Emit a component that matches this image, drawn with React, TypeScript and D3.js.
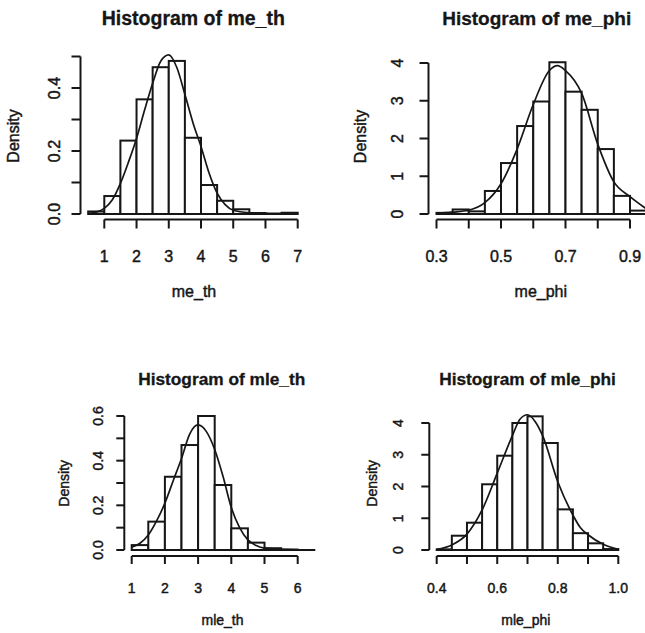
import React from "react";
import * as d3 from "d3";

// ---------- data: me_th ----------
const meThBreaks = [0.5, 1, 1.5, 2, 2.5, 3, 3.5, 4, 4.5, 5, 5.5, 6, 6.5, 7];
const meThDensity = [0.008, 0.057, 0.233, 0.364, 0.466, 0.486, 0.242, 0.092, 0.042, 0.015, 0.003, 0.001, 0.004];
const meThCurveX = [0.5, 0.75, 1.0, 1.25, 1.5, 1.75, 2.0, 2.25, 2.5, 2.75, 3.0, 3.25, 3.5, 3.75, 4.0, 4.25, 4.5, 4.75, 5.0, 5.5, 6.0, 6.5, 7.0];
const meThCurveY = [0.002, 0.006, 0.018, 0.045, 0.097, 0.165, 0.24, 0.33, 0.415, 0.485, 0.505, 0.465, 0.38, 0.29, 0.214, 0.13, 0.066, 0.03, 0.012, 0.004, 0.002, 0.001, 0.001];
const meThXTicks = [1, 2, 3, 4, 5, 6, 7];
const meThXLabels = ["1", "2", "3", "4", "5", "6", "7"];
const meThYTicks = [0, 0.1, 0.2, 0.3, 0.4, 0.5];
const meThYLabels = ["0.0", "", "0.2", "", "0.4", ""];

// ---------- data: me_phi ----------
const mePhiBreaks = [0.3, 0.35, 0.4, 0.45, 0.5, 0.55, 0.6, 0.65, 0.7, 0.75, 0.8, 0.85, 0.9, 0.95];
const mePhiDensity = [0.03, 0.12, 0.07, 0.61, 1.35, 2.33, 2.98, 4.02, 3.24, 2.76, 1.72, 0.48, 0.09];
const mePhiCurveX = [0.3, 0.35, 0.4, 0.45, 0.5, 0.55, 0.6, 0.65, 0.675, 0.7, 0.75, 0.8, 0.85, 0.9, 0.95];
const mePhiCurveY = [0.02, 0.05, 0.1, 0.3, 0.8, 1.72, 2.9, 3.8, 3.93, 3.8, 3.2, 1.85, 0.85, 0.46, 0.14];
const mePhiXTicks = [0.3, 0.4, 0.5, 0.6, 0.7, 0.8, 0.9];
const mePhiXLabels = ["0.3", "", "0.5", "", "0.7", "", "0.9"];
const mePhiYTicks = [0, 1, 2, 3, 4];
const mePhiYLabels = ["0", "1", "2", "3", "4"];

// ---------- data: mle_th ----------
const mleThBreaks = [1, 1.5, 2, 2.5, 3, 3.5, 4, 4.5, 5, 5.5, 6, 6.5];
const mleThDensity = [0.022, 0.127, 0.328, 0.47, 0.6, 0.291, 0.097, 0.033, 0.008, 0.002, 0.0];
const mleThCurveX = [1.0, 1.25, 1.5, 1.75, 2.0, 2.25, 2.5, 2.75, 3.0, 3.25, 3.5, 3.75, 4.0, 4.25, 4.5, 4.75, 5.0, 5.5, 6.0, 6.5];
const mleThCurveY = [0.012, 0.03, 0.067, 0.13, 0.21, 0.31, 0.41, 0.52, 0.56, 0.53, 0.45, 0.33, 0.19, 0.1, 0.045, 0.02, 0.008, 0.003, 0.001, 0.001];
const mleThXTicks = [1, 2, 3, 4, 5, 6];
const mleThXLabels = ["1", "2", "3", "4", "5", "6"];
const mleThYTicks = [0, 0.1, 0.2, 0.3, 0.4, 0.5, 0.6];
const mleThYLabels = ["0.0", "", "0.2", "", "0.4", "", "0.6"];

// ---------- data: mle_phi ----------
const mlePhiBreaks = [0.4, 0.45, 0.5, 0.55, 0.6, 0.65, 0.7, 0.75, 0.8, 0.85, 0.9, 0.95, 1.0];
const mlePhiDensity = [0.02, 0.45, 0.86, 2.07, 2.97, 4.0, 4.21, 3.37, 1.28, 0.53, 0.21, 0.03];
const mlePhiCurveX = [0.4, 0.45, 0.5, 0.55, 0.6, 0.65, 0.675, 0.7, 0.725, 0.75, 0.8, 0.85, 0.875, 0.9, 0.95, 1.0];
const mlePhiCurveY = [0.02, 0.16, 0.5, 1.26, 2.42, 3.6, 4.12, 4.26, 4.05, 3.6, 2.15, 1.1, 0.7, 0.48, 0.18, 0.02];
const mlePhiXTicks = [0.4, 0.5, 0.6, 0.7, 0.8, 0.9, 1.0];
const mlePhiXLabels = ["0.4", "", "0.6", "", "0.8", "", "1.0"];
const mlePhiYTicks = [0, 1, 2, 3, 4];
const mlePhiYLabels = ["0", "1", "2", "3", "4"];

const FONT = "'Liberation Sans', Arial, Helvetica, sans-serif";
const INK = "#161616";
const TXT = { stroke: INK, strokeWidth: 0.45 };

type PanelProps = {
  title: string;
  xlab: string;
  breaks: number[];
  density: number[];
  curveX: number[];
  curveY: number[];
  xTicks: number[];
  xLabels: string[];
  yTicks: number[];
  yLabels: string[];
  xDom: [number, number];
  xRange: [number, number];
  yDom: [number, number];
  yRange: [number, number];
  yAxisX: number;
  xAxisY: number;
  titlePos: [number, number];
  xlabPos: [number, number];
  ylabPos: [number, number];
  yTickLabelX: number;
  xTickLabelY: number;
  titleSize: number;
  labelSize: number;
  tick: number;
};

function Panel(p: PanelProps) {
  const x = d3.scaleLinear().domain(p.xDom).range(p.xRange);
  const y = d3.scaleLinear().domain(p.yDom).range(p.yRange);
  const pts: [number, number][] = p.curveX.map((v, i) => [v, p.curveY[i]]);
  const line = d3
    .line<[number, number]>()
    .x((d) => x(d[0]))
    .y((d) => y(d[1]))
    .curve(d3.curveMonotoneX);
  const xt0 = x(p.xTicks[0]);
  const xt1 = x(p.xTicks[p.xTicks.length - 1]);
  const yt0 = y(p.yTicks[0]);
  const yt1 = y(p.yTicks[p.yTicks.length - 1]);
  const sw = 2;
  return (
    <g fontFamily={FONT} fill={INK}>
      <text
        x={p.titlePos[0]}
        y={p.titlePos[1]}
        textAnchor="middle"
        fontWeight="bold"
        fontSize={p.titleSize}
        stroke={INK}
        strokeWidth={0.3}
      >
        {p.title}
      </text>
      {p.density.map((d, i) => {
        const x0 = x(p.breaks[i]);
        const x1 = x(p.breaks[i + 1]);
        const yy = y(d);
        const y0 = y(0);
        return (
          <rect
            key={i}
            x={x0}
            y={yy}
            width={x1 - x0}
            height={Math.max(0.01, y0 - yy)}
            fill="white"
            stroke={INK}
            strokeWidth={sw}
          />
        );
      })}
      <path d={line(pts) || ""} fill="none" stroke={INK} strokeWidth={1.7} />
      <line x1={xt0} x2={xt1} y1={p.xAxisY} y2={p.xAxisY} stroke={INK} strokeWidth={sw} />
      {p.xTicks.map((t, i) => (
        <g key={"xt" + i}>
          <line x1={x(t)} x2={x(t)} y1={p.xAxisY} y2={p.xAxisY + p.tick} stroke={INK} strokeWidth={sw} />
          {p.xLabels[i] ? (
            <text x={x(t)} y={p.xTickLabelY} textAnchor="middle" fontSize={p.labelSize} {...TXT}>
              {p.xLabels[i]}
            </text>
          ) : null}
        </g>
      ))}
      <line x1={p.yAxisX} x2={p.yAxisX} y1={yt0} y2={yt1} stroke={INK} strokeWidth={sw} />
      {p.yTicks.map((t, i) => (
        <g key={"yt" + i}>
          <line x1={p.yAxisX - p.tick} x2={p.yAxisX} y1={y(t)} y2={y(t)} stroke={INK} strokeWidth={sw} />
          {p.yLabels[i] ? (
            <text
              transform={`translate(${p.yTickLabelX},${y(t)}) rotate(-90)`}
              textAnchor="middle"
              fontSize={p.labelSize}
              {...TXT}
            >
              {p.yLabels[i]}
            </text>
          ) : null}
        </g>
      ))}
      <text x={p.xlabPos[0]} y={p.xlabPos[1]} textAnchor="middle" fontSize={p.labelSize} {...TXT}>
        {p.xlab}
      </text>
      <text
        transform={`translate(${p.ylabPos[0]},${p.ylabPos[1]}) rotate(-90)`}
        textAnchor="middle"
        fontSize={p.labelSize}
        {...TXT}
      >
        Density
      </text>
    </g>
  );
}

export default function App() {
  return (
    <svg
      width={645}
      height={633}
      viewBox="0 0 645 633"
      style={{ position: "absolute", left: 0, top: 0, background: "white" }}
    >
      <rect x={0} y={0} width={645} height={633} fill="white" />
      <Panel
        title="Histogram of me_th"
        xlab="me_th"
        breaks={meThBreaks}
        density={meThDensity}
        curveX={meThCurveX}
        curveY={meThCurveY}
        xTicks={meThXTicks}
        xLabels={meThXLabels}
        yTicks={meThYTicks}
        yLabels={meThYLabels}
        xDom={[1, 7]}
        xRange={[104.3, 297.7]}
        yDom={[0, 0.5]}
        yRange={[214, 56.5]}
        yAxisX={80.5}
        xAxisY={219.5}
        titlePos={[193.3, 25]}
        xlabPos={[194, 297]}
        ylabPos={[18.5, 136]}
        yTickLabelX={60}
        xTickLabelY={261.5}
        titleSize={19.5}
        labelSize={16}
        tick={9}
      />
      <Panel
        title="Histogram of me_phi"
        xlab="me_phi"
        breaks={mePhiBreaks}
        density={mePhiDensity}
        curveX={mePhiCurveX}
        curveY={mePhiCurveY}
        xTicks={mePhiXTicks}
        xLabels={mePhiXLabels}
        yTicks={mePhiYTicks}
        yLabels={mePhiYLabels}
        xDom={[0.3, 0.9]}
        xRange={[436.5, 630]}
        yDom={[0, 4]}
        yRange={[214, 63]}
        yAxisX={428.5}
        xAxisY={219.5}
        titlePos={[536.7, 25]}
        xlabPos={[540.8, 297]}
        ylabPos={[366, 136.5]}
        yTickLabelX={403}
        xTickLabelY={261.5}
        titleSize={19}
        labelSize={16}
        tick={9}
      />
      <Panel
        title="Histogram of mle_th"
        xlab="mle_th"
        breaks={mleThBreaks}
        density={mleThDensity}
        curveX={mleThCurveX}
        curveY={mleThCurveY}
        xTicks={mleThXTicks}
        xLabels={mleThXLabels}
        yTicks={mleThYTicks}
        yLabels={mleThYLabels}
        xDom={[1, 6]}
        xRange={[131.7, 297.7]}
        yDom={[0, 0.6]}
        yRange={[550, 416]}
        yAxisX={124.3}
        xAxisY={556}
        titlePos={[221.7, 385]}
        xlabPos={[222.5, 625]}
        ylabPos={[69, 483.3]}
        yTickLabelX={103}
        xTickLabelY={593}
        titleSize={17.3}
        labelSize={14}
        tick={8}
      />
      <Panel
        title="Histogram of mle_phi"
        xlab="mle_phi"
        breaks={mlePhiBreaks}
        density={mlePhiDensity}
        curveX={mlePhiCurveX}
        curveY={mlePhiCurveY}
        xTicks={mlePhiXTicks}
        xLabels={mlePhiXLabels}
        yTicks={mlePhiYTicks}
        yLabels={mlePhiYLabels}
        xDom={[0.4, 1.0]}
        xRange={[436.7, 618.3]}
        yDom={[0, 4]}
        yRange={[550, 423]}
        yAxisX={429.3}
        xAxisY={556}
        titlePos={[527.5, 385]}
        xlabPos={[525.8, 625]}
        ylabPos={[377, 483.3]}
        yTickLabelX={403}
        xTickLabelY={593}
        titleSize={17.3}
        labelSize={14}
        tick={8}
      />
    </svg>
  );
}
